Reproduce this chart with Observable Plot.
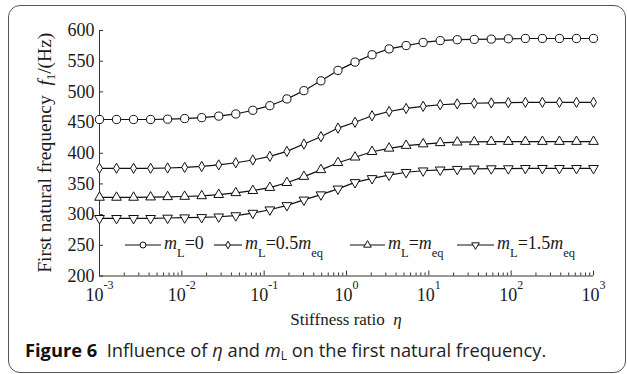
<!DOCTYPE html>
<html>
<head>
<meta charset="utf-8">
<script src="https://cdn.jsdelivr.net/npm/d3@7"></script>
<script src="https://cdn.jsdelivr.net/npm/@observablehq/plot@0.6"></script>
<style>
  html, body { margin: 0; padding: 0; background: #fff; }
  #wrap { position: relative; width: 627px; height: 374px; overflow: hidden; }
  #frame { position: absolute; left: 8px; top: 5px; width: 618px; height: 368px;
           border: 1.3px solid #555; border-radius: 12px; box-sizing: border-box; }
  #chart { position: absolute; left: 0; top: 0; }
  #caption { position: absolute; left: 25px; top: 340px; white-space: nowrap; line-height: 20px;
             font-family: "Open Sans", sans-serif; font-size: 18.3px; color: #222; }
  #caption b { font-weight: 700; color: #111; }
  #caption sub { font-size: 12px; vertical-align: -3px; line-height: 0; }
</style>
</head>
<body>
<div id="wrap">
  <div id="frame"></div>
  <div id="chart"></div>
  <div id="caption"><b>Figure 6</b>&nbsp; Influence of <i>η</i> and <i>m</i><sub>L</sub> on the first natural frequency.</div>
</div>
<script>
// ---- data ----
const eta = [0.001, 0.00161, 0.002593, 0.004175, 0.006723, 0.010826, 0.017433, 0.028072,
  0.045204, 0.07279, 0.11721, 0.188739, 0.30392, 0.48939, 0.788046, 1.268961, 2.04336,
  3.290345, 5.298317, 8.531679, 13.73824, 22.12216, 35.62248, 57.36153, 92.36709,
  148.7352, 239.5027, 385.662, 621.0169, 1000];
const fML0 = [455, 455, 455, 455, 455.5, 456.5, 458, 460.5, 464, 470, 477.5, 488.5, 502, 518, 535,
  548.5, 560.5, 570, 575.5, 580.5, 583.5, 585, 585.5, 586, 586.5, 587, 587, 587, 587, 587];
const fML05 = [375.5, 375.5, 375.5, 375.5, 376, 377, 378.5, 381, 384.5, 389, 395, 403, 415, 427, 441,
  450.5, 461, 468, 473, 476.5, 479, 480.5, 481.5, 482, 482.5, 483, 483, 483, 483, 483];
const fML1 = [328, 328, 328, 328.5, 329, 329.5, 330.5, 332.5, 335.5, 339, 344, 352, 362, 373, 384.5,
  393.5, 402.5, 408, 412.5, 415, 417, 418, 418.5, 419, 419, 419, 419, 419, 419, 419];
const fML15 = [294, 294, 294, 294, 294.5, 295, 295.5, 296.5, 298.5, 302.5, 308, 315, 324, 332.5, 342,
  352.5, 359, 364.5, 369, 371.5, 373, 374, 374.5, 375, 375, 375.5, 375.5, 375.5, 375.5, 375.5];
const seriesKeys = ["0", "0.5", "1", "1.5"];
const seriesValues = [fML0, fML05, fML1, fML15];
const legendLabels = [
  [["m", "i"], ["L", "sub"], ["=0", ""]],
  [["m", "i"], ["L", "sub"], ["=0.5", ""], ["m", "i"], ["eq", "sub"]],
  [["m", "i"], ["L", "sub"], ["=", ""], ["m", "i"], ["eq", "sub"]],
  [["m", "i"], ["L", "sub"], ["=1.5", ""], ["m", "i"], ["eq", "sub"]]
];
const xTicks = [0.001, 0.01, 0.1, 1, 10, 100, 1000];
const xTickExp = ["-3", "-2", "-1", "0", "1", "2", "3"];
const yTicks = [200, 250, 300, 350, 400, 450, 500, 550, 600];

// ---- table ----
const rows = seriesKeys.flatMap((k, s) => eta.map((e, i) => ({series: k, eta: e, f: seriesValues[s][i]})));
const xMinor = xTicks.slice(0, -1).flatMap(d => [2, 3, 4, 5, 6, 7, 8, 9].map(k => k * d));

// inverted triangle symbol
const triangleDown = {
  draw(context, size) {
    const sqrt3 = Math.sqrt(3);
    const y = -Math.sqrt(size / (sqrt3 * 3));
    context.moveTo(0, -y * 2);
    context.lineTo(-sqrt3 * y, y);
    context.lineTo(sqrt3 * y, y);
    context.closePath();
  }
};
const symbols = ["circle", "diamond", "triangle", triangleDown];
const d3symbols = [d3.symbolCircle, d3.symbolDiamond, d3.symbolTriangle, triangleDown];
const radii = [4.1, 3.1, 3.6, 3.6];
const legendRadii = [3, 2.3, 2.8, 2.8];

const W = 627, H = 340, mL = 99, mR = 34, mT = 30, mB = 64.5;
const iw = W - mL - mR, ih = H - mT - mB;
const FONT = '"Liberation Serif", "Times New Roman", serif';

const plot = Plot.plot({
  width: W, height: H,
  marginLeft: mL, marginRight: mR, marginTop: mT, marginBottom: mB,
  style: {fontFamily: FONT, fontSize: "18px", background: "transparent", color: "#1a1a1a", overflow: "visible"},
  x: {type: "log", domain: [1e-3, 1e3]},
  y: {domain: [200, 600]},
  marks: [
    Plot.axisY({ticks: yTicks, tickSize: 0, tickPadding: 5, label: null, fontSize: 18, fontFamily: FONT}),
    Plot.axisX({ticks: xTicks, tickSize: 0, tickPadding: 12, label: null, fontSize: 18, fontFamily: FONT,
      tickFormat: d => xTickExp[xTicks.indexOf(d)]}),
    Plot.tickY(yTicks, {y: d => d, insetRight: iw - 4, stroke: "#333"}),
    Plot.tickX(xMinor, {x: d => d, insetTop: ih - 3, stroke: "#333"}),
    Plot.tickX(xTicks, {x: d => d, insetTop: ih - 5, stroke: "#333"}),
    Plot.ruleX([1e-3], {stroke: "#333"}),
    Plot.ruleY([200], {stroke: "#333"}),
    Plot.line(rows, {x: "eta", y: "f", z: "series", stroke: "#111", strokeWidth: 1.2}),
    ...seriesKeys.map((k, s) => Plot.dot(rows.filter(r => r.series === k), {
      x: "eta", y: "f", symbol: symbols[s], r: radii[s], fill: "white", stroke: "#111", strokeWidth: 1
    }))
  ]
});
document.getElementById("chart").appendChild(plot);

const svg = d3.select(plot);
// superscript exponents on x tick labels
svg.selectAll('g[aria-label="x-axis tick label"] text').each(function () {
  const t = d3.select(this);
  const e = t.text();
  t.text(null);
  t.append("tspan").text("10");
  t.append("tspan").attr("dy", -12).attr("font-size", 12).text(e);
});

// y axis label
const yl = svg.append("text")
  .attr("transform", `translate(51,${mT + ih / 2}) rotate(-90)`)
  .attr("text-anchor", "middle").attr("font-family", FONT).attr("font-size", 19.5).attr("fill", "#1a1a1a");
yl.append("tspan").text("First natural frequency  ");
yl.append("tspan").attr("font-style", "italic").text("f");
yl.append("tspan").attr("font-size", 12.5).attr("dy", 4).text("1");
yl.append("tspan").attr("dy", -4).text("/(Hz)");

// x axis label
const xl = svg.append("text")
  .attr("x", mL + iw / 2).attr("y", 325)
  .attr("text-anchor", "middle").attr("font-family", FONT).attr("font-size", 17).attr("fill", "#1a1a1a");
xl.append("tspan").text("Stiffness ratio  ");
xl.append("tspan").attr("font-style", "italic").text("η");

// legend
const legX = [[125, 161], [214, 242], [350, 385], [457, 494]];
const legY = 245;
const lg = svg.append("g").attr("font-family", FONT).attr("fill", "#1a1a1a").attr("text-anchor", "start");
seriesKeys.forEach((k, s) => {
  const [x1, x2] = legX[s];
  lg.append("line").attr("x1", x1).attr("x2", x2).attr("y1", legY).attr("y2", legY)
    .attr("stroke", "#111").attr("stroke-width", 1.1);
  const gen = d3.symbol().type(d3symbols[s]).size(Math.PI * legendRadii[s] ** 2);
  lg.append("path").attr("d", gen()).attr("transform", `translate(${(x1 + x2) / 2},${legY})`)
    .attr("fill", "white").attr("stroke", "#111").attr("stroke-width", 1);
  const t = lg.append("text").attr("x", x2 + 3).attr("y", 249).attr("font-size", 18).attr("text-anchor", "start");
  let shifted = false;
  legendLabels[s].forEach(([str, kind]) => {
    const sp = t.append("tspan").text(str);
    if (kind === "i") sp.attr("font-style", "italic");
    if (kind === "sub") { sp.attr("font-size", 12.5).attr("dy", 8); shifted = true; }
    else if (shifted) { sp.attr("dy", -8); shifted = false; }
  });
});
</script>
</body>
</html>
